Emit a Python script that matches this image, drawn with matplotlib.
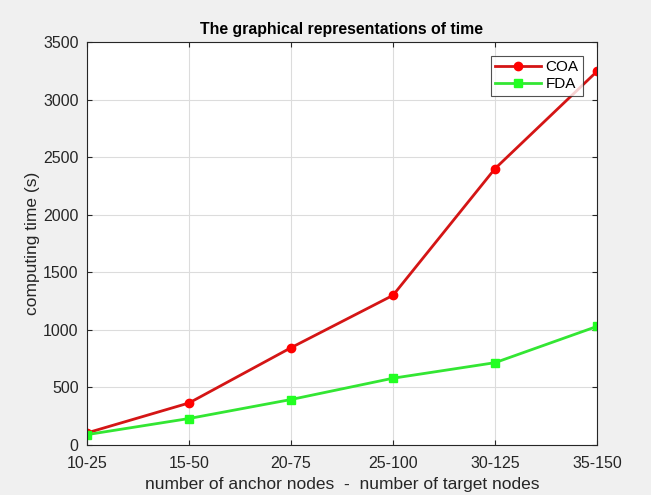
import matplotlib.pyplot as plt
import numpy as np

plt.rcParams['font.family'] = ['Liberation Sans', 'DejaVu Sans']

categories = ['10-25', '15-50', '20-75', '25-100', '30-125', '35-150']
coa_time = [105, 365, 845, 1300, 2400, 3245]
fda_time = [90, 230, 395, 580, 715, 1030]

x = np.arange(len(categories))

fig = plt.figure(figsize=(6.51, 4.95), dpi=100, facecolor='#f0f0f0')
ax = fig.add_axes([87 / 651, 50 / 495, 510 / 651, 403 / 495])

ax.plot(x, coa_time, color='#d41515', linewidth=2, marker='o', markersize=6,
        markerfacecolor='#ff0000', markeredgecolor='#ff0000', label='COA')
ax.plot(x, fda_time, color='#33e633', linewidth=2, marker='s', markersize=6,
        markerfacecolor='#22ff22', markeredgecolor='#22ff22', label='FDA')

ax.set_xlim(0, len(categories) - 1)
ax.set_ylim(0, 3500)
ax.set_yticks(np.arange(0, 3501, 500))
ax.set_xticks(x)
ax.set_xticklabels(categories)
ax.grid(True, color='#dcdcdc', linewidth=0.8)
ax.tick_params(direction='in', top=True, right=True, labelsize=11.5,
               color='#262626', labelcolor='#262626')
ax.tick_params(axis='x', pad=8)
ax.tick_params(axis='y', pad=6)
for s in ax.spines.values():
    s.set_color('#262626')

ax.set_title('The graphical representations of time', fontsize=11.4, fontweight='bold', pad=6)
ax.set_xlabel('number of anchor nodes  -  number of target nodes', fontsize=12.5,
              labelpad=4, color='#262626')
ax.set_ylabel('computing time (s)', fontsize=12.5, labelpad=2, color='#262626')

leg = ax.legend(loc='upper right', fancybox=False, fontsize=11, borderaxespad=0.9,
                handlelength=3.0, borderpad=0.3, labelspacing=0.2, handletextpad=0.3)
leg.get_frame().set_edgecolor('#262626')
leg.get_frame().set_linewidth(0.8)

fig.savefig('out.png', dpi=100, facecolor=fig.get_facecolor())
